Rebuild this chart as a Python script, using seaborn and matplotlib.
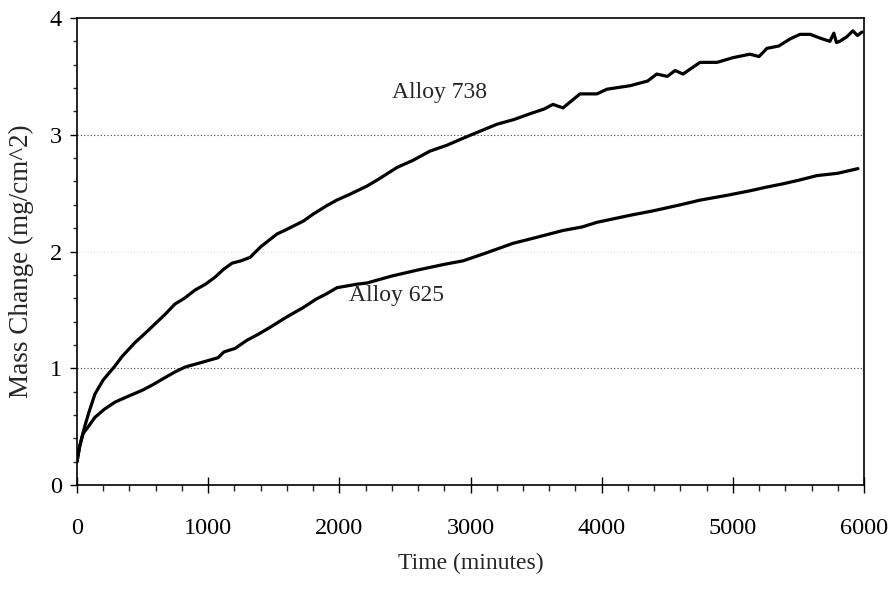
import numpy as np
import pandas as pd
import matplotlib
matplotlib.use("Agg")
import matplotlib.pyplot as plt
import seaborn as sns
from matplotlib.ticker import MultipleLocator

# Alloy 738 (upper curve)
t738 = [0, 20, 40, 61, 90, 137, 200, 290, 343, 442, 520, 595, 670, 747, 820, 900,
        980, 1052, 1120, 1182, 1250, 1320, 1400, 1525, 1600, 1725, 1800, 1900, 1980, 2080, 2210,
        2300, 2440, 2560, 2691, 2820, 2943, 3072, 3202, 3330, 3454, 3560, 3629, 3705, 3835, 3964,
        4040, 4216, 4350, 4420, 4500, 4560, 4620, 4750, 4880, 5000, 5130, 5200, 5260, 5350,
        5435, 5512, 5590, 5660, 5740, 5770, 5790, 5815, 5870, 5915, 5950, 5985]
m738 = [0.20, 0.33, 0.42, 0.51, 0.62, 0.78, 0.90, 1.02, 1.10, 1.22, 1.30, 1.38, 1.46, 1.55, 1.60,
        1.67, 1.72, 1.78, 1.85, 1.90, 1.92, 1.95, 2.04, 2.15, 2.19, 2.26, 2.32, 2.39, 2.44, 2.49,
        2.56, 2.62, 2.72, 2.78, 2.86, 2.91, 2.97, 3.03, 3.09, 3.13, 3.18, 3.22, 3.26, 3.23, 3.35,
        3.35, 3.39, 3.42, 3.46, 3.52, 3.50, 3.55, 3.52, 3.62, 3.62, 3.66, 3.69, 3.67, 3.74, 3.76,
        3.82, 3.86, 3.86, 3.83, 3.80, 3.87, 3.79, 3.80, 3.84, 3.89, 3.85, 3.88]

# Alloy 625 (lower curve)
t625 = [0, 20, 46, 80, 137, 210, 290, 390, 495, 580, 671, 750, 823, 950, 1075, 1120, 1205,
        1296, 1380, 1471, 1600, 1725, 1820, 1906, 1982, 2135, 2210, 2400, 2592, 2800, 2943,
        3100, 3324, 3500, 3705, 3850, 3964, 4216, 4400, 4600, 4750, 4950, 5131, 5250, 5383,
        5500, 5641, 5800, 5954]
m625 = [0.20, 0.33, 0.44, 0.49, 0.58, 0.65, 0.71, 0.76, 0.81, 0.86, 0.92, 0.97, 1.01, 1.05, 1.09,
        1.14, 1.17, 1.24, 1.29, 1.35, 1.44, 1.52, 1.59, 1.64, 1.69, 1.72, 1.73, 1.79, 1.84, 1.89,
        1.92, 1.98, 2.07, 2.12, 2.18, 2.21, 2.25, 2.31, 2.35, 2.40, 2.44, 2.48, 2.52, 2.55, 2.58,
        2.61, 2.65, 2.67, 2.71]

labels = ["Alloy 738", "Alloy 625"]

df = pd.concat([
    pd.DataFrame({"t": t738, "m": m738, "alloy": labels[0]}),
    pd.DataFrame({"t": t625, "m": m625, "alloy": labels[1]}),
])

sns.set_style("ticks")
plt.rcParams['font.family'] = ['Liberation Serif', 'DejaVu Serif']

fig = plt.figure(figsize=(8.96, 5.94), dpi=100)
ax = fig.add_axes([77/896, 1 - 485/594, (864 - 77)/896, (485 - 18)/594])

for yv, c in [(1, "#444444"), (2, "#dddddd"), (3, "#444444")]:
    ax.axhline(yv, color=c, lw=0.8, ls=(0, (1, 2)), zorder=0)

sns.lineplot(data=df, x="t", y="m", units="alloy", estimator=None, sort=False,
             color="black", lw=2.3, ax=ax, legend=False)

ax.set_xlim(0, 6000)
ax.set_ylim(0, 4)
ax.xaxis.set_major_locator(MultipleLocator(1000))
ax.xaxis.set_minor_locator(MultipleLocator(200))
ax.yaxis.set_major_locator(MultipleLocator(1))
ax.yaxis.set_minor_locator(MultipleLocator(0.2))

for s in ax.spines.values():
    s.set_color("black")
    s.set_linewidth(1.2)

ax.tick_params(axis="x", which="major", direction="inout", length=12, width=1.0,
               labelsize=17.5, pad=18, colors="black")
ax.tick_params(axis="x", which="minor", direction="out", length=4, width=1.0)
ax.tick_params(axis="y", which="major", direction="out", length=5, width=1.0,
               labelsize=17.5, pad=6, colors="black")
ax.tick_params(axis="y", which="minor", direction="out", length=3, width=1.0)

ax.set_xlabel("Time (minutes)", fontsize=17, labelpad=10)
ax.set_ylabel("Mass Change (mg/cm^2)", fontsize=19.5)
ax.yaxis.set_label_coords(-43/787, (485 - 261)/467)

ax.text(2400, 3.36, labels[0], fontsize=17, ha="left", va="center")
ax.text(2070, 1.62, labels[1], fontsize=17, ha="left", va="center")

fig.savefig("out.png", dpi=100, facecolor="white")
